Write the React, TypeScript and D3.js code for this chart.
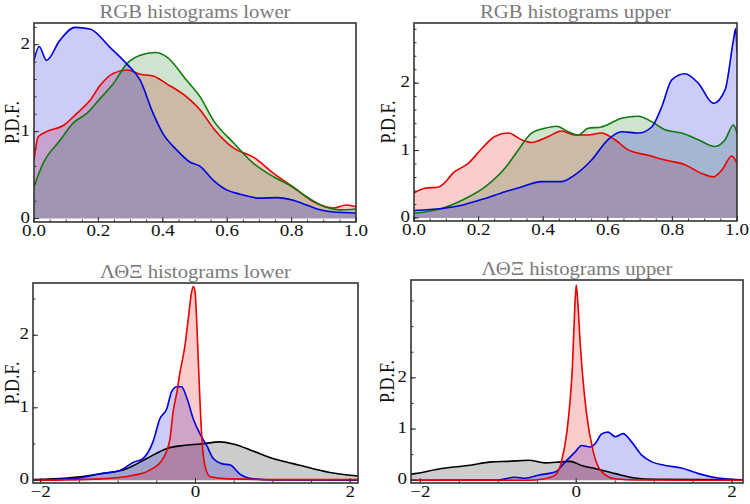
import React from "react";
import * as d3 from "d3";

type Pt = [number, number];

// ---------- Data: RGB lower ----------
const rgbLowerRed: Pt[] = [[0,0.67],[0.013,0.94],[0.039,1.0],[0.091,1.07],[0.133,1.21],[0.174,1.36],[0.205,1.53],[0.246,1.67],[0.288,1.71],[0.33,1.66],[0.37,1.64],[0.412,1.55],[0.474,1.4],[0.516,1.25],[0.557,1.04],[0.62,0.81],[0.68,0.71],[0.744,0.52],[0.81,0.35],[0.87,0.19],[0.93,0.12],[0.97,0.155],[1.0,0.135]];
const rgbLowerGreen: Pt[] = [[0,0.37],[0.029,0.64],[0.081,0.9],[0.122,1.1],[0.164,1.21],[0.205,1.38],[0.246,1.55],[0.288,1.78],[0.33,1.88],[0.376,1.91],[0.412,1.86],[0.474,1.59],[0.516,1.4],[0.557,1.13],[0.62,0.87],[0.68,0.64],[0.744,0.48],[0.795,0.38],[0.847,0.25],[0.9,0.14],[0.95,0.1],[1.0,0.11]];
const rgbLowerBlue: Pt[] = [[0,1.82],[0.016,1.98],[0.039,1.82],[0.08,2.05],[0.127,2.2],[0.174,2.18],[0.236,1.97],[0.288,1.78],[0.33,1.59],[0.37,1.21],[0.4,0.98],[0.443,0.79],[0.484,0.65],[0.516,0.6],[0.557,0.44],[0.598,0.33],[0.64,0.28],[0.7,0.235],[0.754,0.24],[0.805,0.21],[0.847,0.155],[0.888,0.1],[0.93,0.075],[1.0,0.063]];

// ---------- Data: RGB upper ----------
const rgbUpperRed: Pt[] = [[0,0.37],[0.034,0.44],[0.076,0.46],[0.127,0.69],[0.168,0.81],[0.21,1.03],[0.25,1.21],[0.292,1.26],[0.333,1.16],[0.364,1.12],[0.416,1.21],[0.457,1.29],[0.498,1.23],[0.539,1.23],[0.58,1.26],[0.622,1.16],[0.663,1.01],[0.725,0.93],[0.777,0.86],[0.839,0.79],[0.891,0.66],[0.927,0.61],[0.953,0.71],[0.984,0.92],[1.0,0.81]];
const rgbUpperGreen: Pt[] = [[0,0.07],[0.086,0.14],[0.152,0.27],[0.22,0.46],[0.282,0.74],[0.323,1.01],[0.364,1.26],[0.405,1.33],[0.441,1.36],[0.478,1.28],[0.508,1.23],[0.539,1.33],[0.58,1.35],[0.643,1.48],[0.694,1.51],[0.736,1.43],[0.777,1.31],[0.829,1.26],[0.88,1.16],[0.932,1.06],[0.963,1.16],[0.989,1.38],[1.0,1.26]];
const rgbUpperBlue: Pt[] = [[0,0.11],[0.086,0.14],[0.148,0.19],[0.22,0.29],[0.282,0.39],[0.333,0.46],[0.395,0.54],[0.457,0.54],[0.498,0.64],[0.55,0.86],[0.6,1.16],[0.643,1.28],[0.694,1.26],[0.736,1.35],[0.767,1.65],[0.798,2.05],[0.839,2.14],[0.88,2.0],[0.927,1.7],[0.963,1.9],[0.989,2.64],[0.996,2.81],[1.0,2.45]];

// ---------- Data: ΛΘΞ lower ----------
const lteLowerBlack: Pt[] = [[-2.1,0.01],[-1.66,0.03],[-1.23,0.09],[-0.89,0.16],[-0.63,0.3],[-0.37,0.44],[-0.16,0.48],[0.06,0.5],[0.32,0.53],[0.49,0.5],[0.75,0.4],[1.0,0.3],[1.26,0.23],[1.52,0.16],[1.78,0.1],[2.1,0.06]];
const lteLowerBlue: Pt[] = [[-2.1,0.005],[-1.6,0.02],[-1.23,0.09],[-0.97,0.14],[-0.8,0.25],[-0.68,0.3],[-0.55,0.53],[-0.46,0.85],[-0.37,0.99],[-0.31,1.22],[-0.24,1.29],[-0.18,1.29],[-0.11,1.13],[-0.03,0.85],[0.058,0.64],[0.145,0.48],[0.23,0.3],[0.34,0.23],[0.45,0.21],[0.57,0.09],[0.75,0.02],[1.0,0.005],[2.1,0.0]];
const lteLowerRed: Pt[] = [[-2.1,0.0],[-1.23,0.02],[-0.8,0.07],[-0.59,0.14],[-0.42,0.3],[-0.33,0.57],[-0.29,0.94],[-0.24,1.22],[-0.2,1.49],[-0.136,1.86],[-0.093,2.23],[-0.049,2.6],[-0.028,2.67],[-0.006,2.6],[0.023,2.0],[0.049,1.31],[0.08,0.62],[0.12,0.21],[0.19,0.05],[0.46,0.02],[1.0,0.01],[2.1,0.01]];

// ---------- Data: ΛΘΞ upper ----------
const lteUpperBlack: Pt[] = [[-2.12,0.12],[-2.07,0.13],[-1.73,0.23],[-1.39,0.29],[-1.08,0.36],[-0.87,0.37],[-0.61,0.39],[-0.4,0.34],[-0.19,0.36],[-0.08,0.37],[0.07,0.29],[0.24,0.23],[0.5,0.13],[0.75,0.045],[1.0,0.02],[2.14,0.01]];
const lteUpperBlue: Pt[] = [[-2.12,0.0],[-1.0,0.005],[-0.79,0.06],[-0.65,0.04],[-0.49,0.1],[-0.27,0.16],[-0.14,0.36],[-0.016,0.55],[0.07,0.68],[0.18,0.65],[0.24,0.71],[0.33,0.91],[0.41,0.94],[0.5,0.85],[0.6,0.91],[0.71,0.75],[0.84,0.49],[0.97,0.36],[1.14,0.29],[1.35,0.24],[1.57,0.13],[1.82,0.045],[2.14,0.01]];
const lteUpperRed: Pt[] = [[-2.12,0.0],[-0.6,0.0],[-0.44,0.02],[-0.27,0.1],[-0.19,0.36],[-0.12,0.94],[-0.08,1.53],[-0.05,2.18],[-0.024,3.16],[0.0,3.81],[0.02,3.48],[0.05,2.7],[0.078,2.12],[0.13,1.33],[0.22,0.55],[0.33,0.16],[0.5,0.03],[0.8,0.005],[2.14,0.0]];

// ---------- Tick labels ----------
const rgbTickValues = [0, 0.2, 0.4, 0.6, 0.8, 1.0];
const rgbTickLabels = ["0.0", "0.2", "0.4", "0.6", "0.8", "1.0"];
const lteTickValues = [-2, 0, 2];
const lteTickLabels = ["\u22122", "0", "2"];
const yTickValues = [0, 1, 2];
const yTickLabels = ["0", "1", "2"];

const titles = [
  "RGB histograms lower",
  "RGB histograms upper",
  "\u039B\u0398\u039E histograms lower",
  "\u039B\u0398\u039E histograms upper",
];

const RED = "#e80000";
const GREEN = "#107a10";
const BLUE = "#0000e0";
const BLACK = "#000000";

const FONT = "'Liberation Serif', 'DejaVu Serif', serif";
const SX = 1.12;

function SText(props: {
  x: number;
  y: number;
  anchor: "start" | "middle" | "end";
  size: number;
  fill: string;
  rotate?: boolean;
  children: React.ReactNode;
}) {
  const t = props.rotate
    ? `translate(${props.x},${props.y}) scale(${SX},1) rotate(-90)`
    : `translate(${props.x},${props.y}) scale(${SX},1)`;
  return (
    <text
      transform={t}
      textAnchor={props.anchor}
      fontFamily={FONT}
      fontSize={props.size}
      fill={props.fill}
    >
      {props.children}
    </text>
  );
}

type Series = { data: Pt[]; color: string };
type PanelProps = {
  box: { x0: number; x1: number; y0: number; y1: number };
  xDomain: [number, number];
  yDomain: [number, number];
  title: string;
  series: Series[];
  xTicks: number[];
  xLabels: string[];
  xMinorStep: number;
  yMinorStep: number;
  ylabX: number;
  titleY: number;
};

function Panel(p: PanelProps) {
  const { box } = p;
  const x = d3.scaleLinear().domain(p.xDomain).range([box.x0, box.x1]);
  const y = d3.scaleLinear().domain(p.yDomain).range([box.y1, box.y0]);
  const area = d3
    .area<Pt>()
    .x((d) => x(d[0]))
    .y0(y(0))
    .y1((d) => y(d[1]))
    .curve(d3.curveMonotoneX);
  const line = d3
    .line<Pt>()
    .x((d) => x(d[0]))
    .y((d) => y(d[1]))
    .curve(d3.curveMonotoneX);
  const clipId = "clip" + Math.round(box.x0) + "_" + Math.round(box.y0);

  const xMinor = d3.range(
    Math.ceil(p.xDomain[0] / p.xMinorStep) * p.xMinorStep,
    p.xDomain[1] + 1e-9,
    p.xMinorStep
  );
  const yMinor = d3.range(0, p.yDomain[1] + 1e-9, p.yMinorStep);
  const frame = "#333";
  return (
    <g>
      <defs>
        <clipPath id={clipId}>
          <rect x={box.x0} y={box.y0} width={box.x1 - box.x0} height={box.y1 - box.y0} />
        </clipPath>
      </defs>
      <SText x={(box.x0 + box.x1) / 2} y={p.titleY} anchor="middle" size={18.5} fill="#7a7a7a">
        {p.title}
      </SText>
      <g clipPath={`url(#${clipId})`}>
        {p.series.map((s, i) => (
          <path key={"a" + i} d={area(s.data) || ""} fill={s.color} fillOpacity={0.2} stroke="none" />
        ))}
        {p.series.map((s, i) => (
          <path key={"l" + i} d={line(s.data) || ""} fill="none" stroke={s.color} strokeWidth={1.6} />
        ))}
      </g>
      {xMinor.map((v, i) => (
        <line key={"xm" + i} x1={x(v)} x2={x(v)} y1={box.y1} y2={box.y1 - 2.5} stroke={frame} strokeWidth={1} />
      ))}
      {p.xTicks.map((v, i) => (
        <line key={"xM" + i} x1={x(v)} x2={x(v)} y1={box.y1} y2={box.y1 - 5} stroke={frame} strokeWidth={1} />
      ))}
      {yMinor.map((v, i) => (
        <line key={"ym" + i} x1={box.x0} x2={box.x0 + 2.5} y1={y(v)} y2={y(v)} stroke={frame} strokeWidth={1} />
      ))}
      {yTickValues.map((v, i) => (
        <line key={"yM" + i} x1={box.x0} x2={box.x0 + 5} y1={y(v)} y2={y(v)} stroke={frame} strokeWidth={1} />
      ))}
      <rect
        x={box.x0}
        y={box.y0}
        width={box.x1 - box.x0}
        height={box.y1 - box.y0}
        fill="none"
        stroke={frame}
        strokeWidth={1.6}
      />
      {p.xTicks.map((v, i) => (
        <SText key={"xl" + i} x={x(v)} y={box.y1 + 14} anchor="middle" size={17} fill="#111">
          {p.xLabels[i]}
        </SText>
      ))}
      {yTickValues.map((v, i) => (
        <SText key={"yl" + i} x={box.x0 - 4} y={y(v) + 4} anchor="end" size={17} fill="#111">
          {yTickLabels[i]}
        </SText>
      ))}
      <SText x={p.ylabX} y={(box.y0 + box.y1) / 2} anchor="middle" size={18} fill="#111" rotate>
        P.D.F.
      </SText>
    </g>
  );
}

export default function App() {
  return (
    <svg
      width={750}
      height={504}
      style={{ position: "absolute", left: 0, top: 0, background: "#fff" }}
    >
      <rect x={0} y={0} width={750} height={504} fill="#fff" />
      <Panel
        box={{ x0: 34, x1: 356, y0: 23, y1: 222 }}
        xDomain={[0, 1]}
        yDomain={[-0.04, 2.25]}
        title={titles[0]}
        series={[
          { data: rgbLowerRed, color: RED },
          { data: rgbLowerGreen, color: GREEN },
          { data: rgbLowerBlue, color: BLUE },
        ]}
        xTicks={rgbTickValues}
        xLabels={rgbTickLabels}
        xMinorStep={0.05}
        yMinorStep={0.2}
        ylabX={19}
        titleY={18}
      />
      <Panel
        box={{ x0: 414, x1: 737, y0: 23, y1: 221 }}
        xDomain={[0, 1]}
        yDomain={[-0.045, 2.893]}
        title={titles[1]}
        series={[
          { data: rgbUpperRed, color: RED },
          { data: rgbUpperGreen, color: GREEN },
          { data: rgbUpperBlue, color: BLUE },
        ]}
        xTicks={rgbTickValues}
        xLabels={rgbTickLabels}
        xMinorStep={0.05}
        yMinorStep={0.2}
        ylabX={395}
        titleY={18}
      />
      <Panel
        box={{ x0: 33, x1: 358, y0: 283, y1: 483 }}
        xDomain={[-2.1, 2.1]}
        yDomain={[-0.037, 2.72]}
        title={titles[2]}
        series={[
          { data: lteLowerBlack, color: BLACK },
          { data: lteLowerBlue, color: BLUE },
          { data: lteLowerRed, color: RED },
        ]}
        xTicks={lteTickValues}
        xLabels={lteTickLabels}
        xMinorStep={0.5}
        yMinorStep={0.5}
        ylabX={19}
        titleY={278}
      />
      <Panel
        box={{ x0: 411, x1: 743, y0: 280, y1: 483 }}
        xDomain={[-2.12, 2.14]}
        yDomain={[-0.053, 3.91]}
        title={titles[3]}
        series={[
          { data: lteUpperBlack, color: BLACK },
          { data: lteUpperBlue, color: BLUE },
          { data: lteUpperRed, color: RED },
        ]}
        xTicks={lteTickValues}
        xLabels={lteTickLabels}
        xMinorStep={0.5}
        yMinorStep={0.5}
        ylabX={394}
        titleY={275}
      />
    </svg>
  );
}
